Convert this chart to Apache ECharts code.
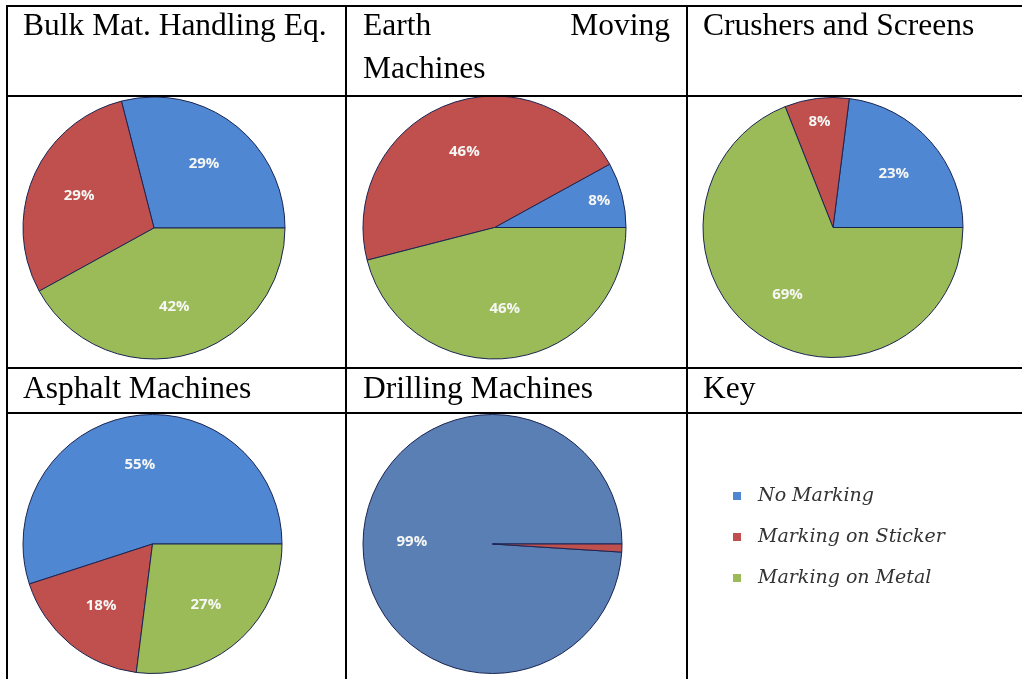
<!DOCTYPE html>
<html>
<head>
<meta charset="utf-8">
<script src="https://cdn.jsdelivr.net/npm/echarts@6/dist/echarts.min.js"></script>
<style>
html,body{margin:0;padding:0;background:#fff;}
#chart{width:1022px;height:679px;}
</style>
</head>
<body>
<div id="chart"></div>
<script>
// ---- data ----
const categories = ['No Marking', 'Marking on Sticker', 'Marking on Metal'];
const panelTitles = ['Bulk Mat. Handling Eq.', 'Earth Moving Machines', 'Crushers and Screens',
                     'Asphalt Machines', 'Drilling Machines', 'Key'];
const bulkValues = [29, 29, 42];
const earthValues = [8, 46, 46];
const crusherValues = [23, 8, 69];
const asphaltValues = [55, 18, 27];
const drillingValues = [99, 1, 0];

// ---- style / layout ----
const colors = ['#5087D3', '#C0504D', '#9BBB59'];
const drillColors = ['#5A7FB5', '#C0504D', '#9BBB59'];
const pies = [
  {values: bulkValues,     center: [154, 228],   r: 131, colors: colors},
  {values: earthValues,    center: [494.5, 227.5], r: 131.5, colors: colors},
  {values: crusherValues,  center: [833, 227.5], r: 130, colors: colors},
  {values: asphaltValues,  center: [152.5, 544], r: 129.5, colors: colors},
  {values: drillingValues, center: [492.5, 544], r: 129.5, colors: drillColors}
];

const labelStyle = {
  show: true, position: 'inside', formatter: '{c}%',
  color: '#f6f7f4', fontFamily: 'Open Sans', fontWeight: 'bold', fontSize: 15
};

const series = [];
pies.forEach(function (p, idx) {
  const data = [];
  p.values.forEach(function (v, i) {
    if (v > 0) data.push({name: categories[i], value: v, itemStyle: {color: p.colors[i]}});
  });
  series.push({
    type: 'pie', center: p.center, radius: [0, p.r], startAngle: 0, clockwise: false,
    label: {show: false}, labelLine: {show: false}, silent: true,
    itemStyle: {borderColor: '#1b2552', borderWidth: 1},
    emphasis: {disabled: true},
    data: data
  });
  series.push({
    type: 'pie', center: p.center, radius: [0.2 * p.r, p.r], startAngle: 0, clockwise: false,
    silent: true, emphasis: {disabled: true}, avoidLabelOverlap: false,
    labelLine: {show: false},
    itemStyle: {color: 'transparent', borderWidth: 0},
    data: data.map(function (d) {
      return {name: d.name, value: d.value, label: Object.assign({}, labelStyle, {show: d.value >= 10})};
    })
  });
  series.push({
    type: 'pie', center: p.center, radius: [0.6 * p.r, p.r], startAngle: 0, clockwise: false,
    silent: true, emphasis: {disabled: true}, avoidLabelOverlap: false,
    labelLine: {show: false},
    itemStyle: {color: 'transparent', borderWidth: 0},
    data: data.map(function (d) {
      return {name: d.name, value: d.value, label: Object.assign({}, labelStyle, {show: d.value >= 5 && d.value < 10})};
    })
  });
});

// ---- table grid + headers ----
const lineStyle = {stroke: '#000', lineWidth: 2};
const hLines = [6, 96, 368, 413];
const vLines = [7, 346, 687];
const graphics = [];
hLines.forEach(function (y) {
  graphics.push({type: 'line', shape: {x1: 6, y1: y, x2: 1022, y2: y}, style: lineStyle, z: 10, silent: true});
});
vLines.forEach(function (x) {
  graphics.push({type: 'line', shape: {x1: x, y1: 5, x2: x, y2: 679}, style: lineStyle, z: 10, silent: true});
});
const serifFamily = "'Liberation Serif', 'Times New Roman', 'DejaVu Serif', serif";
function headText(str, x, baseline, align) {
  graphics.push({
    type: 'text', x: x, y: baseline - 8, z: 11, silent: true,
    style: {text: str, font: '31.5px ' + serifFamily, fill: '#000',
            align: align || 'left', verticalAlign: 'middle'}
  });
}
headText(panelTitles[0], 23, 35);
const earthWords = panelTitles[1].split(' ');
headText(earthWords[0], 363, 35);
headText(earthWords[1], 670, 35, 'right');
headText(earthWords[2], 363, 78);
headText(panelTitles[2], 703, 35);
headText(panelTitles[3], 23, 398);
headText(panelTitles[4], 363, 398);
headText(panelTitles[5], 703, 398);

const option = {
  backgroundColor: '#ffffff',
  animation: false,
  legend: {
    orient: 'vertical', left: 733, top: 485, padding: 0,
    data: categories, icon: 'rect', itemWidth: 8, itemHeight: 8, itemGap: 19,
    selectedMode: false,
    itemStyle: {borderWidth: 0},
    textStyle: {
      fontFamily: "'DejaVu Serif', serif", fontStyle: 'italic', fontSize: 19, color: '#333',
      lineHeight: 22, padding: [0, 0, 0, 12]
    }
  },
  graphic: graphics,
  series: series
};

const chart = echarts.init(document.getElementById('chart'), null, {renderer: 'canvas'});
chart.setOption(option);
</script>
</body>
</html>
